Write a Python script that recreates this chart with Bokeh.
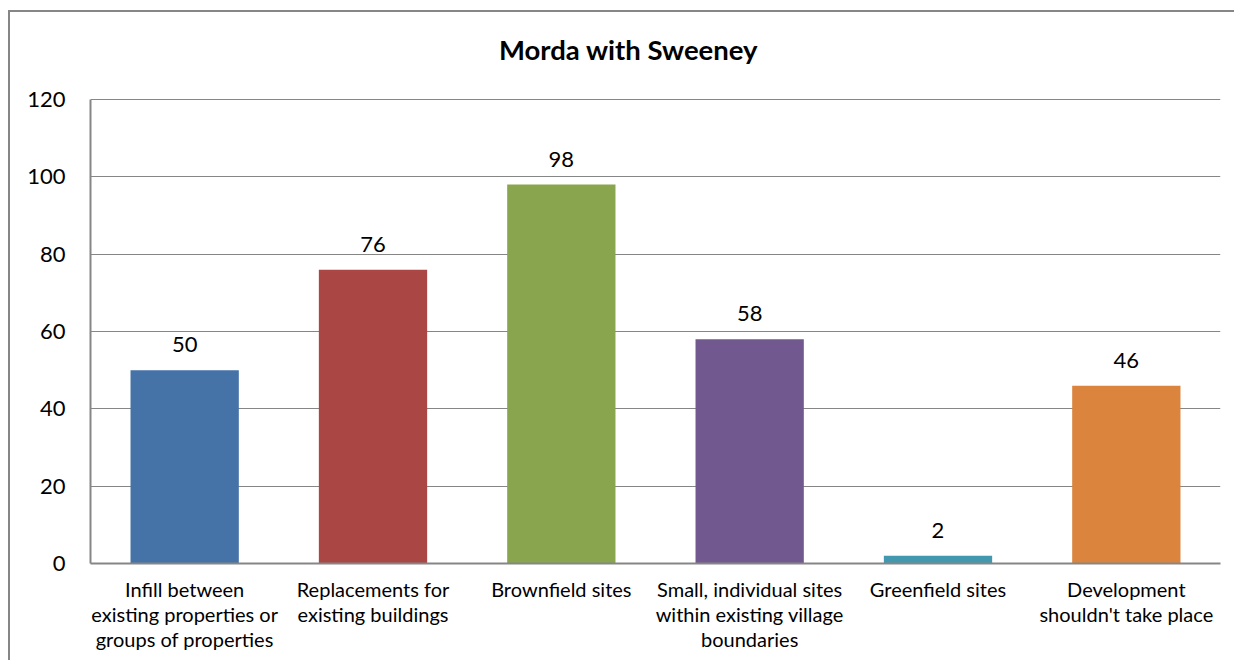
from bokeh.plotting import figure
from bokeh.models import ColumnDataSource, LabelSet, FactorRange, Label
from bokeh.core.properties import value
from bokeh.embed import file_html
from bokeh.resources import INLINE

title_text = "Morda with Sweeney"
categories = [
    "Infill between\nexisting properties or\ngroups of properties",
    "Replacements for\nexisting buildings",
    "Brownfield sites",
    "Small, individual sites\nwithin existing village\nboundaries",
    "Greenfield sites",
    "Development\nshouldn't take place",
]
values = [50, 76, 98, 58, 2, 46]
colors = ["#4572A7", "#AA4643", "#89A54E", "#71588F", "#4198AF", "#DB843D"]
labels = [str(v) for v in values]
y_ticks = [0, 20, 40, 60, 80, 100, 120]

FONT = "Lato"
Y_MAX = 120
Y_TOP = 140.7  # extra headroom inside the frame for the chart title

source = ColumnDataSource(dict(cat=categories, val=values, color=colors, label=labels))

p = figure(
    x_range=FactorRange(*categories, range_padding=0),
    y_range=(0, Y_TOP),
    width=1226, height=650,
    output_backend="svg", toolbar_location=None,
    min_border_left=80, min_border_right=16, min_border_top=7, min_border_bottom=99,
)
p.styles = {"border-left": "2px solid #868686", "border-top": "2px solid #868686",
            "box-sizing": "border-box", "margin-left": "8px", "margin-top": "10px"}

title_label = Label(x=2.857, y=132.96, text=title_text,
                    text_align="center", text_baseline="middle",
                    text_font=FONT, text_font_size="27.5px", text_font_style="bold",
                    text_color="#000000")
p.add_layout(title_label)

p.vbar(x="cat", top="val", width=0.575, color="color", source=source, line_color=None)

labels_set = LabelSet(x="cat", y="val", text="label", source=source,
                      text_align="center", text_baseline="alphabetic", y_offset=18,
                      text_font=value(FONT), text_font_size="22px", text_color="#000000")
p.add_layout(labels_set)

p.outline_line_color = None
p.xgrid.grid_line_color = None
p.ygrid.grid_line_color = "#868686"
p.ygrid.grid_line_width = 1
p.yaxis.ticker = y_ticks
p.yaxis.bounds = (0, Y_MAX)

for ax in (p.xaxis, p.yaxis):
    ax.axis_line_color = "#868686"
    ax.axis_line_width = 2
    ax.major_tick_line_color = None
    ax.minor_tick_line_color = None
    ax.major_label_text_font = FONT
    ax.major_label_text_color = "#000000"

p.yaxis.major_label_text_font_size = "22px"
p.yaxis.major_label_standoff = 19
p.xaxis.major_label_text_font_size = "20px"
p.xaxis.major_label_standoff = 7
p.xaxis.major_label_text_line_height = 1.05

open("out.html", "w").write(file_html(p, INLINE))
